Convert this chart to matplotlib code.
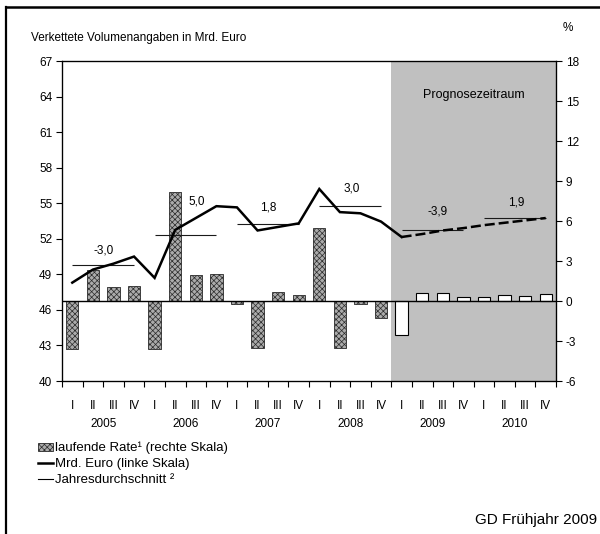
import matplotlib
matplotlib.use('Agg')
import matplotlib.pyplot as plt
from matplotlib.patches import Patch
from matplotlib.lines import Line2D
import numpy as np

plt.rcParams['font.family'] = ['Liberation Sans', 'DejaVu Sans']
plt.rcParams['hatch.linewidth'] = 0.5
plt.rcParams['axes.unicode_minus'] = False

# ---------------- data ----------------
years = ['2005', '2006', '2007', '2008', '2009', '2010']
quarters = ['I', 'II', 'III', 'IV']
# laufende Rate (%), right scale
rate_actual = [-3.6, 2.35, 1.05, 1.1, -3.6, 8.15, 1.95, 2.0,
               -0.2, -3.55, 0.65, 0.45, 5.5, -3.55, -0.2, -1.3]
rate_forecast = [-2.55, 0.6, 0.63, 0.33, 0.3, 0.43, 0.38, 0.53]
# Mrd. Euro, left scale
level_actual = [48.3, 49.4, 49.9, 50.5, 48.7, 52.75, 53.75, 54.75,
                54.65, 52.7, 53.0, 53.3, 56.2, 54.25, 54.15, 53.45]
level_forecast = [52.15, 52.4, 52.7, 52.9, 53.15, 53.35, 53.55, 53.75]
# Jahresdurchschnitt (left scale) and annual rates
annual_avg = [49.8, 52.3, 53.25, 54.8, 52.7, 53.75]
annual_rate = ['-3,0', '5,0', '1,8', '3,0', '-3,9', '1,9']

# ---------------- styling ----------------
label_offsets = [(0, 10), (8, 24), (0, 11.5), (1, 12), (4, 13.5), (1, 11)]
bar_face = '#ababab'
bar_edge = '#2a2a2a'
bar_hatch = 'xxxxxx'

n_act = len(rate_actual)
n_all = n_act + len(rate_forecast)
x_act = np.arange(n_act)
x_fc = np.arange(n_act, n_all)

fig = plt.figure(figsize=(6.0, 5.34), dpi=100)
ax = fig.add_axes([62 / 600, 1 - 381 / 534, (556 - 62) / 600, 320 / 534])

# forecast shading
ax.axvspan(n_act - 0.5, n_all - 0.5, color='#c0c0c0', zorder=0, lw=0)
ax.text((n_act + n_all - 1) / 2, 0.894, 'Prognosezeitraum', transform=ax.get_xaxis_transform(),
        ha='center', va='center', fontsize=9)

# bars on right scale
ax.bar(x_act, rate_actual, width=0.6, facecolor=bar_face, edgecolor=bar_edge,
       hatch=bar_hatch, linewidth=0.6, zorder=3)
ax.bar(x_fc, rate_forecast, width=0.6, facecolor='white', edgecolor='black',
       linewidth=0.8, zorder=3)
ax.axhline(0, color='black', lw=1.0, zorder=4)

ax.set_xlim(-0.5, n_all - 0.5)
ax.set_ylim(-6, 18)
ax.set_yticks(np.arange(-6, 19, 3))
ax.yaxis.tick_right()
ax.tick_params(axis='y', direction='out', length=4, width=0.8, labelsize=8.5, pad=3)

# x axis: roman labels at centers, ticks at boundaries
ax.set_xticks(np.arange(n_all))
ax.set_xticklabels(quarters * len(years), fontsize=8.5)
ax.tick_params(axis='x', which='major', length=0, pad=14)
ax.set_xticks(np.arange(-0.5, n_all, 1), minor=True)
ax.tick_params(axis='x', which='minor', direction='out', length=4, width=0.8)
for i, yr in enumerate(years):
    ax.text(i * 4 + 1.5, -0.135, yr, transform=ax.get_xaxis_transform(),
            ha='center', va='center', fontsize=8.5)

for sp in ax.spines.values():
    sp.set_linewidth(0.9)

# left scale: level line
axl = ax.twinx()
axl.yaxis.tick_left()
ax.yaxis.tick_right()
axl.set_ylim(40, 67)
axl.set_yticks(np.arange(40, 68, 3))
axl.tick_params(axis='y', direction='out', length=4, width=0.8, labelsize=8.5, pad=3)

axl.plot(np.arange(n_act + 1), level_actual + [level_forecast[0]], color='black', lw=1.8,
         solid_joinstyle='miter', zorder=5)
axl.plot(x_fc, level_forecast, color='black', lw=1.8, linestyle=(0, (4, 1.6)), zorder=5)

for i, (avg, lab) in enumerate(zip(annual_avg, annual_rate)):
    axl.hlines(avg, i * 4, i * 4 + 3, color='#1a1a1a', lw=0.8, zorder=4)
    axl.annotate(lab, (i * 4 + 1.5, avg), xytext=label_offsets[i], textcoords='offset points',
                 ha='center', va='center', fontsize=8.5)

# texts
fig.text(30.7 / 600, 1 - 40.7 / 534, 'Verkettete Volumenangaben in Mrd. Euro',
         ha='left', va='baseline', fontsize=8.5)
fig.text(568 / 600, 1 - 28 / 534, '%', ha='center', va='center', fontsize=8.5)
fig.text(597 / 600, 1 - 520 / 534, 'GD Frühjahr 2009', ha='right', va='center', fontsize=11)

# legend
handles = [Patch(facecolor=bar_face, edgecolor=bar_edge, hatch=bar_hatch, linewidth=0.6),
           Line2D([], [], color='black', lw=1.8),
           Line2D([], [], color='black', lw=0.8)]
labels = ['laufende Rate\u00b9 (rechte Skala)', 'Mrd. Euro (linke Skala)', 'Jahresdurchschnitt \u00b2']
fig.legend(handles, labels, loc='upper left', bbox_to_anchor=(38 / 600, 1 - 442 / 534),
           bbox_transform=fig.transFigure, frameon=False, fontsize=9.5,
           handlelength=1.15, handleheight=0.55, handletextpad=0.15, labelspacing=0.3,
           borderpad=0, borderaxespad=0)

# figure frame (left and top)
fig.add_artist(Line2D([6 / 600, 6 / 600], [0, 1 - 7 / 534], transform=fig.transFigure,
                      color='black', lw=1.6))
fig.add_artist(Line2D([6 / 600, 1], [1 - 7 / 534, 1 - 7 / 534], transform=fig.transFigure,
                      color='black', lw=1.8))

fig.savefig('out.png', dpi=100)
